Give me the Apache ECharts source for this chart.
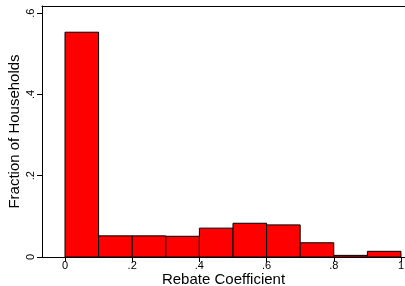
<!DOCTYPE html>
<html>
<head>
<meta charset="utf-8">
<script src="https://cdn.jsdelivr.net/npm/echarts@6/dist/echarts.min.js"></script>
<style>
  html, body { margin: 0; padding: 0; background: #fff; }
  #chart { width: 405px; height: 286px; }
</style>
</head>
<body>
<div id="chart"></div>
<script>
// histogram bins (left edge, right edge) and fraction of households
const binStart = [0, 0.1, 0.2, 0.3, 0.4, 0.5, 0.6, 0.7, 0.8, 0.9]
const binEnd = [0.1, 0.2, 0.3, 0.4, 0.5, 0.6, 0.7, 0.8, 0.9, 1.0]
const fraction = [0.553, 0.052, 0.052, 0.051, 0.071, 0.083, 0.079, 0.035, 0.004, 0.014]
const xTicks = [0, 0.2, 0.4, 0.6, 0.8, 1]
const yTicks = [0, 0.2, 0.4, 0.6]

// Stata style: drop the leading zero
const fmt = (v) => {
  const s = String(Math.round(v * 10) / 10)
  return s.startsWith('0.') ? s.slice(1) : s
}

const data = binStart.map((s, i) => [s, binEnd[i], fraction[i]])

const chart = echarts.init(document.getElementById('chart'))
const font = 'Liberation Sans, Arial, sans-serif'

chart.setOption({
  animation: false,
  grid: { left: 42, right: 0, top: 6, bottom: 29, outerBoundsMode: 'none', containLabel: false },
  xAxis: [
    {
      type: 'value',
      min: -0.0685,
      max: 1.012,
      interval: 0.2,
      name: 'Rebate Coefficient',
      nameLocation: 'middle',
      nameGap: 15,
      nameMoveOverlap: false,
      nameTextStyle: { fontFamily: font, fontSize: 15, color: '#000' },
      axisLine: { show: true, onZero: false, lineStyle: { color: '#000', width: 1 } },
      axisTick: { show: true, length: 5, lineStyle: { color: '#000' }, customValues: xTicks },
      axisLabel: {
        color: '#000', fontFamily: font, fontSize: 11, margin: 3,
        customValues: xTicks, formatter: fmt
      },
      splitLine: { show: false }
    },
    {
      type: 'value',
      position: 'top',
      min: -0.0685,
      max: 1.012,
      axisLine: { show: true, onZero: false, lineStyle: { color: '#000', width: 1 } },
      axisTick: { show: false },
      axisLabel: { show: false },
      splitLine: { show: false }
    }
  ],
  yAxis: {
    type: 'value',
    min: 0,
    max: 0.6175,
    name: 'Fraction of Households',
    nameLocation: 'middle',
    nameGap: 20,
    nameMoveOverlap: false,
    nameTextStyle: { fontFamily: font, fontSize: 15, color: '#000' },
    axisLine: { show: true, onZero: false, lineStyle: { color: '#000', width: 1 } },
    axisTick: { show: true, length: 5, lineStyle: { color: '#000' }, customValues: yTicks },
    axisLabel: {
      color: '#000', fontFamily: font, fontSize: 11, margin: 6, rotate: 90,
      customValues: yTicks, formatter: fmt
    },
    splitLine: { show: false }
  },
  series: [
    {
      type: 'custom',
      data,
      renderItem: (params, api) => {
        const p0 = api.coord([api.value(0), api.value(2)])
        const p1 = api.coord([api.value(1), 0])
        return {
          type: 'rect',
          shape: { x: p0[0], y: p0[1], width: p1[0] - p0[0], height: p1[1] - p0[1] },
          style: { fill: '#ff0000', stroke: '#000', lineWidth: 1 }
        }
      }
    }
  ]
})
</script>
</body>
</html>
